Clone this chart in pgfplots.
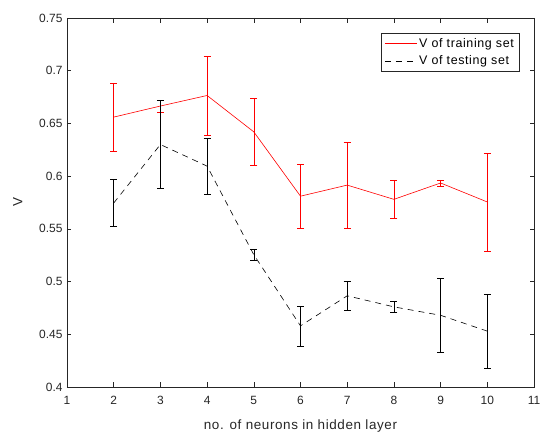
\documentclass[border=0pt]{standalone}
\usepackage{pgfplots}
\pgfplotsset{compat=1.18}
\usepackage{pgfplotstable}
\usepackage{fontspec}
\setmainfont{Liberation Sans}

\definecolor{axgray}{RGB}{38,38,38}
\definecolor{mred}{RGB}{255,0,0}

% x, mean, half-width of error bar
\pgfplotstableread{
x  v      e
2  0.656  0.0325
3  0.6665 0.0055
4  0.6765 0.0375
5  0.642  0.032
6  0.581  0.0305
7  0.5915 0.0405
8  0.578  0.018
9  0.5935 0.003
10 0.5755 0.0465
}\training

\pgfplotstableread{
x  v      e
2  0.5745 0.0225
3  0.630  0.042
4  0.6095 0.0265
5  0.5255 0.0055
6  0.458  0.019
7  0.4865 0.0135
8  0.476  0.0052
9  0.468  0.035
10 0.453  0.035
}\testing

\begin{document}
\begin{tikzpicture}
\useasboundingbox (-67bp,-51bp) rectangle (478bp,387bp);
\begin{axis}[
  at={(0,0)}, anchor=south west,
  scale only axis, width=467bp, height=369bp,
  xmin=1, xmax=11, ymin=0.4, ymax=0.75,
  xtick={1,...,11},
  ytick={0.4,0.45,...,0.75},
  yticklabels={0.4,0.45,0.5,0.55,0.6,0.65,0.7,0.75},
  tick align=inside,
  major tick length=4.5bp,
  axis line style={axgray, line width=0.5bp},
  tick style={axgray, line width=0.5bp},
  every tick label/.append style={font=\fontsize{12}{14}\selectfont, text=axgray},
  xticklabel style={yshift=-6bp},
  yticklabel style={xshift=-1bp},
  /pgf/number format/assume math mode=true,
  xlabel={no. of neurons in hidden layer},
  ylabel={V},
  label style={font=\fontsize{13.5}{15}\selectfont\addfontfeature{LetterSpace=4.5}, text=axgray},
  xlabel style={yshift=-8bp},
  ylabel style={yshift=10bp},
  legend style={at={(0.968,0.959)}, anchor=north east,
    draw=axgray, line width=0.5bp,
    font=\fontsize{12.5}{14}\selectfont\addfontfeature{LetterSpace=5},
    inner xsep=3bp, inner ysep=3bp, row sep=3bp,
    cells={anchor=west}},
  legend image code/.code={\draw[#1] (0bp,0bp) -- (32bp,0bp);},
  error bars/error bar style={solid, line width=0.6bp},
  error bars/error mark options={rotate=90, mark size=3.5bp, solid, line width=0.6bp},
]
\addplot[mred, line width=0.6bp, mark=none,
  error bars/.cd, y dir=both, y explicit]
  table[x=x, y=v, y error=e]{\training};
\addlegendentry{V of training set}
\addplot[black, line width=0.6bp, dash pattern=on 6bp off 5bp, mark=none,
  error bars/.cd, y dir=both, y explicit]
  table[x=x, y=v, y error=e]{\testing};
\addlegendentry{V of testing set}
\end{axis}
\end{tikzpicture}
\end{document}
